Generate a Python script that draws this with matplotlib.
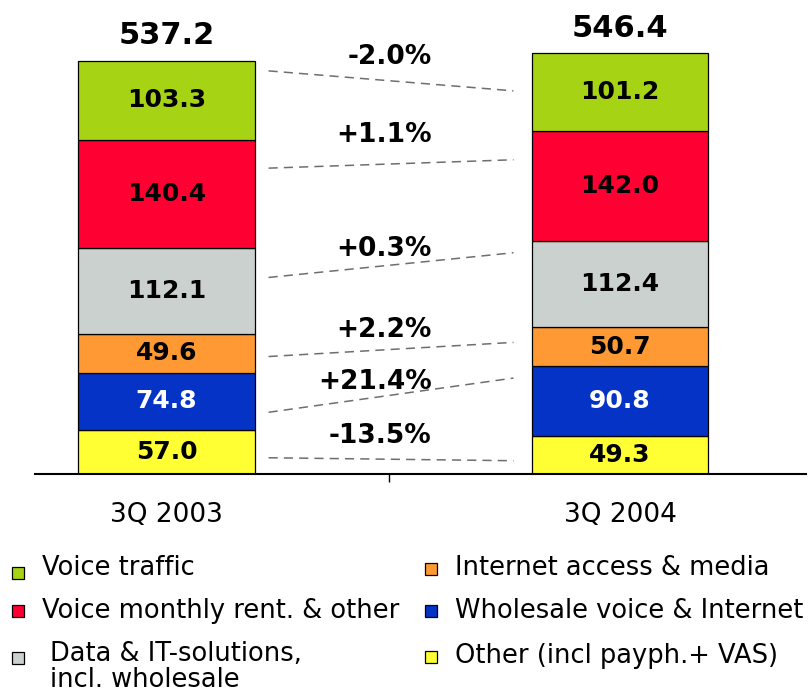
import matplotlib
matplotlib.use("Agg")
import matplotlib.pyplot as plt
from matplotlib.patches import Rectangle
import numpy as np

plt.rcParams['font.family'] = ['DejaVu Sans']

# ---------------- data ----------------
periods = ["3Q 2003", "3Q 2004"]
# segments listed top-down (as in the stack and legend)
segments = ["Voice traffic", "Voice monthly rent. & other",
            "Data & IT-solutions,\nincl. wholesale", "Internet access & media",
            "Wholesale voice & Internet", "Other (incl payph.+ VAS)"]
values_2003 = [103.3, 140.4, 112.1, 49.6, 74.8, 57.0]
values_2004 = [101.2, 142.0, 112.4, 50.7, 90.8, 49.3]
totals = [537.2, 546.4]
changes = ["-2.0%", "+1.1%", "+0.3%", "+2.2%", "+21.4%", "-13.5%"]

# ---------------- style ----------------
colors = ["#A6D414", "#FF0033", "#CBD1CF", "#FF9933", "#0433C6", "#FFFF33"]
label_colors = ["black", "black", "black", "black", "white", "black"]
# where the dashed connector meets each segment (fraction from segment top)
frac_left = [0.13, 0.26, 0.34, 0.58, 0.69, 0.63]
frac_right = [0.48, 0.26, 0.14, 0.39, 0.17, 0.65]
label_off_px = [24, 29, 16, 20, 13, 23]

W, H = 809, 694
fig = plt.figure(figsize=(W / 100, H / 100), dpi=100)
ax = fig.add_axes([35 / W, 1 - 474 / H, (806 - 35) / W, (474 - 43) / H])

x = np.arange(len(periods))
bw = 0.39
data = np.array([values_2003, values_2004])  # shape (2, 6)

# stack bottom-up: reverse order
bottoms = np.zeros(len(periods))
seg_bottom = np.zeros((len(periods), len(segments)))
for i in reversed(range(len(segments))):
    vals = data[:, i]
    ax.bar(x, vals, bw, bottom=bottoms, color=colors[i], edgecolor="black",
           linewidth=0.9, zorder=2)
    seg_bottom[:, i] = bottoms
    for j in range(len(periods)):
        ax.text(x[j], bottoms[j] + vals[j] / 2, f"{vals[j]:.1f}", ha="center",
                va="center", fontsize=18, fontweight="bold",
                color=label_colors[i], zorder=3)
    bottoms = bottoms + vals

for j in range(len(periods)):
    ax.annotate(f"{totals[j]:.1f}", xy=(x[j], bottoms[j]), xytext=(0, 18),
                textcoords="offset points", ha="center", va="center",
                fontsize=22, fontweight="bold", annotation_clip=False)

# dashed connectors with percentage changes
xl, xr = 0.225, 0.765
xm = 0.49
for i in range(len(segments)):
    top_l = seg_bottom[0, i] + data[0, i]
    top_r = seg_bottom[1, i] + data[1, i]
    yl = top_l - frac_left[i] * data[0, i]
    yr = top_r - frac_right[i] * data[1, i]
    ax.plot([xl, xr], [yl, yr], linestyle=(0, (6, 4)), color="#6E6E6E",
            linewidth=1.1, zorder=1)
    ym = yl + (yr - yl) * (xm - xl) / (xr - xl)
    ax.annotate(changes[i], xy=(0.585, ym), xytext=(0, label_off_px[i] * 0.72),
                textcoords="offset points", ha="right", va="center",
                fontsize=19, fontweight="bold", zorder=4)

ax.set_xlim(-0.29, 1.41)
ax.set_ylim(0, 560)
for s in ["top", "right", "left"]:
    ax.spines[s].set_visible(False)
ax.spines["bottom"].set_linewidth(1.5)
ax.set_yticks([])
ax.set_xticks(x)
ax.set_xticklabels(periods, fontsize=19)
ax.tick_params(axis="x", which="major", length=0, pad=20)
ax.set_xticks([0.49], minor=True)
ax.tick_params(axis="x", which="minor", length=6, width=1, direction="out")

# ---------------- legend (manual) ----------------
def fx(px):
    return px / W

def fy(py):
    return 1 - py / H

marker_pos = [(18, 573), (18, 611), (18, 658), (431, 569), (431, 611), (431, 657)]
text_pos = [(42, 568), (42, 611), (50, 641), (455, 568), (455, 611), (455, 656)]
for i, lab in enumerate(segments):
    mx, my = marker_pos[i]
    fig.add_artist(Rectangle((fx(mx - 6), fy(my + 6)), 12 / W, 12 / H,
                             transform=fig.transFigure, facecolor=colors[i],
                             edgecolor="black", linewidth=0.9))
    tx, ty = text_pos[i]
    if "\n" in lab:
        fig.text(fx(tx), fy(ty), lab, ha="left", va="top", fontsize=18.5,
                 linespacing=1.0)
    else:
        fig.text(fx(tx), fy(ty), lab, ha="left", va="center", fontsize=18.5)

fig.savefig("out.png", dpi=100)
